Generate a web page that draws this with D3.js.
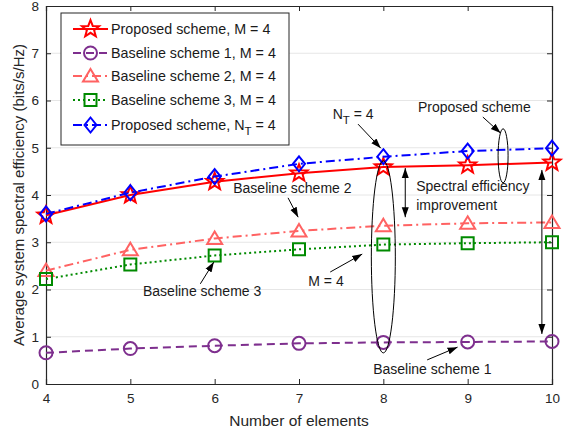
<!DOCTYPE html>
<html>
<head>
<meta charset="utf-8">
<script src="https://cdn.jsdelivr.net/npm/d3@7"></script>
<style>
  body { margin: 0; background: #fff; }
  svg { font-family: "Liberation Sans", Arial, sans-serif; }
</style>
</head>
<body>
<svg id="chart" width="574" height="434"></svg>
<script>
// data
const elements = [4, 5, 6, 7, 8, 9, 10];
const proposedM4 = [3.57, 4.0, 4.28, 4.46, 4.59, 4.63, 4.69];
const baseline1 = [0.66, 0.75, 0.81, 0.86, 0.88, 0.89, 0.9];
const baseline2 = [2.4, 2.84, 3.08, 3.24, 3.35, 3.4, 3.42];
const baseline3 = [2.22, 2.53, 2.72, 2.85, 2.95, 2.98, 3.0];
const proposedNT4 = [3.6, 4.05, 4.39, 4.66, 4.81, 4.93, 4.99];
const xTicks = [4, 5, 6, 7, 8, 9, 10];
const yTicks = [0, 1, 2, 3, 4, 5, 6, 7, 8];

const seriesNames = [
  "Proposed scheme, M = 4",
  "Baseline scheme 1, M = 4",
  "Baseline scheme 2, M = 4",
  "Baseline scheme 3, M = 4",
  "Proposed scheme, N_T = 4",
];
const seriesValues = [proposedM4, baseline1, baseline2, baseline3, proposedNT4];

// annotations (data units)
const annoTexts = [
  { x: 7.40, y: 5.6, t: "N_T = 4" },
  { x: 8.41, y: 5.76, t: "Proposed scheme" },
  { x: 8.39, y: 4.08, t: "Spectral efficiency" },
  { x: 8.39, y: 3.68, t: "improvement" },
  { x: 6.22, y: 4.04, t: "Baseline scheme 2" },
  { x: 5.15, y: 1.86, t: "Baseline scheme 3" },
  { x: 7.11, y: 2.07, t: "M = 4" },
  { x: 7.88, y: 0.21, t: "Baseline scheme 1" },
];
const annoArrows = [
  { x1: 7.70, y1: 5.50, x2: 7.97, y2: 4.99 },
  { x1: 9.18, y1: 5.65, x2: 9.39, y2: 5.31 },
  { x1: 6.87, y1: 3.94, x2: 6.99, y2: 3.53 },
  { x1: 5.83, y1: 2.12, x2: 5.99, y2: 2.58 },
  { x1: 7.37, y1: 2.37, x2: 7.75, y2: 2.75 },
  { x1: 8.52, y1: 0.51, x2: 8.88, y2: 0.78 },
];
const annoDoubleArrows = [
  { x: 8.26, y1: 4.57, y2: 3.53 },
  { x: 9.88, y1: 4.53, y2: 1.06 },
];
const annoEllipses = [
  { x: 9.42, y: 4.83, rx: 5, ry: 27 },
  { x: 8.0, y: 2.69, rx: 12, ry: 96 },
];

const styles = [
  { color: "#ff0000", dash: null, marker: "star" },
  { color: "#7e2f8e", dash: "8,5", marker: "circle" },
  { color: "#ff6262", dash: "9,4,2,4", marker: "triangle" },
  { color: "#008a00", dash: "2,3", marker: "square" },
  { color: "#0000ff", dash: "9,4,2,4", marker: "diamond" },
];

const svg = d3.select("#chart");
const margin = { top: 6, right: 22, bottom: 50, left: 46 };
const width = 574 - margin.left - margin.right;
const height = 434 - margin.top - margin.bottom;

const x = d3.scaleLinear().domain([4, 10]).range([0, width]);
const y = d3.scaleLinear().domain([0, 8]).range([height, 0]);

const defs = svg.append("defs");
["end", "start"].forEach((k) => {
  defs.append("marker")
    .attr("id", "head-" + k)
    .attr("viewBox", "0 0 10 10")
    .attr("refX", k === "end" ? 10 : 0)
    .attr("refY", 5)
    .attr("markerWidth", 10)
    .attr("markerHeight", 10)
    .attr("markerUnits", "userSpaceOnUse")
    .attr("orient", "auto")
    .append("path")
    .attr("d", k === "end" ? "M0,1.5L10,5L0,8.5Z" : "M10,1.5L0,5L10,8.5Z")
    .attr("fill", "#000");
});

const g = svg.append("g").attr("transform", `translate(${margin.left},${margin.top})`);

// grid
g.append("g")
  .selectAll("line")
  .data(yTicks.slice(1, -1))
  .enter()
  .append("line")
  .attr("x1", 0)
  .attr("x2", width)
  .attr("y1", (d) => y(d))
  .attr("y2", (d) => y(d))
  .attr("stroke", "#e6e6e6")
  .attr("stroke-width", 1);

// axes
const axisColor = "#262626";
const xAxis = d3.axisBottom(x).tickValues(xTicks).tickSize(-5).tickPadding(9).tickFormat(d3.format("d"));
const yAxis = d3.axisLeft(y).tickValues(yTicks).tickSize(-5).tickPadding(7).tickFormat(d3.format("d"));
const xTop = d3.axisTop(x).tickValues(xTicks).tickSize(-5).tickFormat("");
const yRight = d3.axisRight(y).tickValues(yTicks).tickSize(-5).tickFormat("");

const gx = g.append("g").attr("transform", `translate(0,${height})`).call(xAxis);
const gy = g.append("g").call(yAxis);
const gxt = g.append("g").call(xTop);
const gyr = g.append("g").attr("transform", `translate(${width},0)`).call(yRight);
[gx, gy, gxt, gyr].forEach((a) => {
  a.selectAll(".domain").attr("stroke", axisColor).attr("stroke-width", 1.2);
  a.selectAll(".tick line").attr("stroke", axisColor);
  a.selectAll("text").attr("fill", axisColor).style("font-size", "13.5px");
});

svg.append("text")
  .attr("x", margin.left + width / 2)
  .attr("y", 426)
  .attr("text-anchor", "middle")
  .attr("fill", axisColor)
  .style("font-size", "15.5px")
  .text("Number of elements");

svg.append("text")
  .attr("transform", `translate(24,${margin.top + height / 2}) rotate(-90)`)
  .attr("text-anchor", "middle")
  .attr("fill", axisColor)
  .style("font-size", "15px")
  .text("Average system spectral efficiency (bits/s/Hz)");

// marker shapes
const markerPath = (type) => {
  switch (type) {
    case "star": {
      const pts = [];
      for (let i = 0; i < 10; i++) {
        const r = i % 2 === 0 ? 9 : 3.8;
        const a = -Math.PI / 2 + (i * Math.PI) / 5;
        pts.push([r * Math.cos(a), r * Math.sin(a)]);
      }
      return "M" + pts.map((p) => p.join(",")).join("L") + "Z";
    }
    case "circle":
      return "M6.5,0A6.5,6.5 0 1,1 -6.5,0A6.5,6.5 0 1,1 6.5,0Z";
    case "triangle":
      return "M0,-7L7.5,5.5L-7.5,5.5Z";
    case "square":
      return "M-6,-6L6,-6L6,6L-6,6Z";
    case "diamond":
      return "M0,-7.5L6,0L0,7.5L-6,0Z";
  }
};

const line = d3.line().x((d) => x(d[0])).y((d) => y(d[1]));

seriesValues.forEach((vals, i) => {
  const st = styles[i];
  const pts = elements.map((e, j) => [e, vals[j]]);
  g.append("path")
    .datum(pts)
    .attr("d", line)
    .attr("fill", "none")
    .attr("stroke", st.color)
    .attr("stroke-width", 2)
    .attr("stroke-dasharray", st.dash);
  g.selectAll(null)
    .data(pts)
    .enter()
    .append("path")
    .attr("transform", (d) => `translate(${x(d[0])},${y(d[1])})`)
    .attr("d", markerPath(st.marker))
    .attr("fill", "none")
    .attr("stroke", st.color)
    .attr("stroke-width", 2);
});

// annotations
const writeLabel = (sel, t) => {
  const m = t.match(/^(.*)N_T(.*)$/);
  if (m) {
    sel.append("tspan").text(m[1] + "N");
    sel.append("tspan").attr("dy", 5).style("font-size", "11.5px").text("T");
    sel.append("tspan").attr("dy", -5).text(m[2]);
  } else {
    sel.text(t);
  }
};

annoTexts.forEach((a) => {
  const t = g.append("text")
    .attr("x", x(a.x))
    .attr("y", y(a.y))
    .attr("fill", "#1a1a1a")
    .style("font-size", "14px");
  writeLabel(t, a.t);
});

annoArrows.forEach((a) => {
  g.append("line")
    .attr("x1", x(a.x1)).attr("y1", y(a.y1))
    .attr("x2", x(a.x2)).attr("y2", y(a.y2))
    .attr("stroke", "#000")
    .attr("stroke-width", 1)
    .attr("marker-end", "url(#head-end)");
});

annoDoubleArrows.forEach((a) => {
  g.append("line")
    .attr("x1", x(a.x)).attr("y1", y(a.y1))
    .attr("x2", x(a.x)).attr("y2", y(a.y2))
    .attr("stroke", "#000")
    .attr("stroke-width", 1)
    .attr("marker-start", "url(#head-start)")
    .attr("marker-end", "url(#head-end)");
});

annoEllipses.forEach((a) => {
  g.append("ellipse")
    .attr("cx", x(a.x)).attr("cy", y(a.y))
    .attr("rx", a.rx).attr("ry", a.ry)
    .attr("fill", "none")
    .attr("stroke", "#000")
    .attr("stroke-width", 1);
});

// legend
const legend = svg.append("g").attr("transform", "translate(61,13)");
legend.append("rect")
  .attr("width", 228)
  .attr("height", 132)
  .attr("fill", "#fff")
  .attr("stroke", axisColor)
  .attr("stroke-width", 1);
const legendY = [16, 40, 63, 87, 112];
seriesNames.forEach((name, i) => {
  const st = styles[i];
  const row = legend.append("g").attr("transform", `translate(0,${legendY[i]})`);
  row.append("line")
    .attr("x1", 12).attr("x2", 47)
    .attr("stroke", st.color)
    .attr("stroke-width", 2)
    .attr("stroke-dasharray", st.dash);
  row.append("path")
    .attr("transform", "translate(29.5,0)")
    .attr("d", markerPath(st.marker))
    .attr("fill", "none")
    .attr("stroke", st.color)
    .attr("stroke-width", 2);
  const t = row.append("text")
    .attr("x", 50)
    .attr("y", 5)
    .attr("fill", "#1a1a1a")
    .style("font-size", "14.3px");
  writeLabel(t, name);
});
</script>
</body>
</html>
